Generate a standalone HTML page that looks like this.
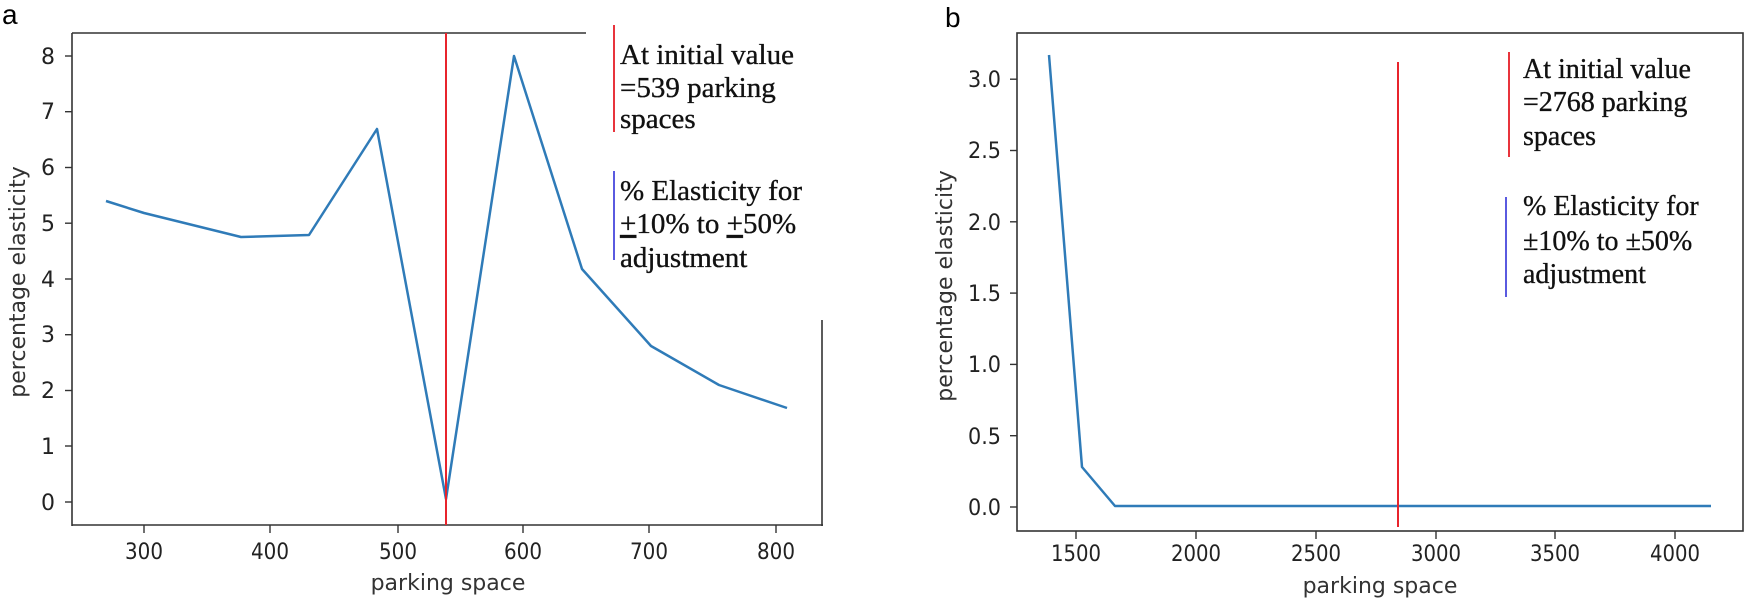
<!DOCTYPE html>
<html><head><meta charset="utf-8"><style>
html,body{margin:0;padding:0;background:#fff;}
svg{display:block;}
.t{font-family:"DejaVu Sans","Liberation Sans",sans-serif;font-size:22px;fill:#222;}
.l{font-family:"DejaVu Sans","Liberation Sans",sans-serif;font-size:22px;fill:#333;}
.g{font-family:"Liberation Serif",serif;font-size:29px;fill:#111;stroke:#111;stroke-width:0.35;}
.g2{font-family:"Liberation Serif",serif;font-size:28px;fill:#111;stroke:#111;stroke-width:0.35;}
</style></head><body>
<svg width="1750" height="605" viewBox="0 0 1750 605" xmlns="http://www.w3.org/2000/svg">
<rect width="1750" height="605" fill="#fff"/>
<!-- Panel a -->
<text x="2" y="24" font-family="Liberation Sans, sans-serif" font-size="28" fill="#000">a</text>
<g stroke="#333" stroke-width="1.6" fill="none">
<line x1="72" y1="33" x2="586" y2="33"/>
<line x1="72" y1="33" x2="72" y2="526"/>
<line x1="72" y1="525" x2="823" y2="525"/>
<line x1="822" y1="320" x2="822" y2="526"/>
</g>
<g stroke="#333" stroke-width="1.4">
<line x1="65" y1="502" x2="72" y2="502"/><line x1="65" y1="446" x2="72" y2="446"/>
<line x1="65" y1="390.5" x2="72" y2="390.5"/><line x1="65" y1="334.7" x2="72" y2="334.7"/>
<line x1="65" y1="279" x2="72" y2="279"/><line x1="65" y1="223.2" x2="72" y2="223.2"/>
<line x1="65" y1="167.5" x2="72" y2="167.5"/><line x1="65" y1="111.7" x2="72" y2="111.7"/>
<line x1="65" y1="56" x2="72" y2="56"/>
<line x1="144" y1="525" x2="144" y2="533"/><line x1="270" y1="525" x2="270" y2="533"/>
<line x1="398" y1="525" x2="398" y2="533"/><line x1="523" y1="525" x2="523" y2="533"/>
<line x1="649" y1="525" x2="649" y2="533"/><line x1="776" y1="525" x2="776" y2="533"/>
</g>
<g class="t" text-anchor="end">
<text x="55" y="510">0</text><text x="55" y="454">1</text><text x="55" y="398">2</text>
<text x="55" y="342">3</text><text x="55" y="287">4</text><text x="55" y="231">5</text>
<text x="55" y="175">6</text><text x="55" y="119">7</text><text x="55" y="64">8</text>
</g>
<g class="t">
<text x="125" y="559" textLength="38" lengthAdjust="spacingAndGlyphs">300</text>
<text x="251" y="559" textLength="38" lengthAdjust="spacingAndGlyphs">400</text>
<text x="379" y="559" textLength="38" lengthAdjust="spacingAndGlyphs">500</text>
<text x="504" y="559" textLength="38" lengthAdjust="spacingAndGlyphs">600</text>
<text x="630" y="559" textLength="38" lengthAdjust="spacingAndGlyphs">700</text>
<text x="757" y="559" textLength="38" lengthAdjust="spacingAndGlyphs">800</text>
</g>
<text class="l" x="448" y="590" text-anchor="middle">parking space</text>
<text class="l" transform="translate(25,282) rotate(-90)" text-anchor="middle">percentage elasticity</text>
<polyline fill="none" stroke="#2f7bb8" stroke-width="2.5" stroke-linejoin="round"
points="106,201 144,213 241,237 309,235 377,129 446,499 514,56 582,269 651,346 719,385 787,408"/>
<line x1="446" y1="33" x2="446" y2="525" stroke="#e8242c" stroke-width="2"/>
<line x1="614" y1="25" x2="614" y2="132" stroke="#e8343c" stroke-width="2"/>
<line x1="614" y1="171" x2="614" y2="260" stroke="#5a5ae0" stroke-width="2"/>
<g class="g">
<text x="620" y="64">At initial value</text>
<text x="620" y="97">=539 parking</text>
<text x="620" y="128">spaces</text>
<text x="620" y="200">% Elasticity for</text>
<text x="620" y="233"><tspan text-decoration="underline">+</tspan>10% to <tspan text-decoration="underline">+</tspan>50%</text>
<text x="620" y="267">adjustment</text>
</g>
<!-- Panel b -->
<text x="945" y="27" font-family="Liberation Sans, sans-serif" font-size="28" fill="#000">b</text>
<rect x="1017" y="33" width="726" height="498" fill="none" stroke="#333" stroke-width="1.6"/>
<g stroke="#333" stroke-width="1.4">
<line x1="1010" y1="507" x2="1017" y2="507"/><line x1="1010" y1="435.7" x2="1017" y2="435.7"/>
<line x1="1010" y1="364.4" x2="1017" y2="364.4"/><line x1="1010" y1="293.1" x2="1017" y2="293.1"/>
<line x1="1010" y1="221.8" x2="1017" y2="221.8"/><line x1="1010" y1="150.5" x2="1017" y2="150.5"/>
<line x1="1010" y1="79.2" x2="1017" y2="79.2"/>
<line x1="1076" y1="531" x2="1076" y2="539"/><line x1="1196" y1="531" x2="1196" y2="539"/>
<line x1="1316" y1="531" x2="1316" y2="539"/><line x1="1436" y1="531" x2="1436" y2="539"/>
<line x1="1555" y1="531" x2="1555" y2="539"/><line x1="1675" y1="531" x2="1675" y2="539"/>
</g>
<g class="t">
<text x="968" y="515" textLength="33" lengthAdjust="spacingAndGlyphs">0.0</text>
<text x="968" y="444" textLength="33" lengthAdjust="spacingAndGlyphs">0.5</text>
<text x="968" y="372" textLength="33" lengthAdjust="spacingAndGlyphs">1.0</text>
<text x="968" y="301" textLength="33" lengthAdjust="spacingAndGlyphs">1.5</text>
<text x="968" y="230" textLength="33" lengthAdjust="spacingAndGlyphs">2.0</text>
<text x="968" y="158" textLength="33" lengthAdjust="spacingAndGlyphs">2.5</text>
<text x="968" y="87" textLength="33" lengthAdjust="spacingAndGlyphs">3.0</text>
</g>
<g class="t">
<text x="1051" y="561" textLength="50" lengthAdjust="spacingAndGlyphs">1500</text>
<text x="1171" y="561" textLength="50" lengthAdjust="spacingAndGlyphs">2000</text>
<text x="1291" y="561" textLength="50" lengthAdjust="spacingAndGlyphs">2500</text>
<text x="1411" y="561" textLength="50" lengthAdjust="spacingAndGlyphs">3000</text>
<text x="1530" y="561" textLength="50" lengthAdjust="spacingAndGlyphs">3500</text>
<text x="1650" y="561" textLength="50" lengthAdjust="spacingAndGlyphs">4000</text>
</g>
<text class="l" x="1380" y="593" text-anchor="middle">parking space</text>
<text class="l" transform="translate(952,286) rotate(-90)" text-anchor="middle">percentage elasticity</text>
<polyline fill="none" stroke="#2f7bb8" stroke-width="2.5" stroke-linejoin="round"
points="1049,55 1082,467 1115,506 1711,506"/>
<line x1="1398" y1="62" x2="1398" y2="527" stroke="#e8242c" stroke-width="2"/>
<line x1="1509" y1="52" x2="1509" y2="157" stroke="#e8343c" stroke-width="2"/>
<line x1="1506" y1="197" x2="1506" y2="297" stroke="#5a5ae0" stroke-width="2"/>
<g class="g2">
<text x="1523" y="78">At initial value</text>
<text x="1523" y="111">=2768 parking</text>
<text x="1523" y="145">spaces</text>
<text x="1523" y="215">% Elasticity for</text>
<text x="1523" y="250">±10% to ±50%</text>
<text x="1523" y="283">adjustment</text>
</g>
</svg>
</body></html>
